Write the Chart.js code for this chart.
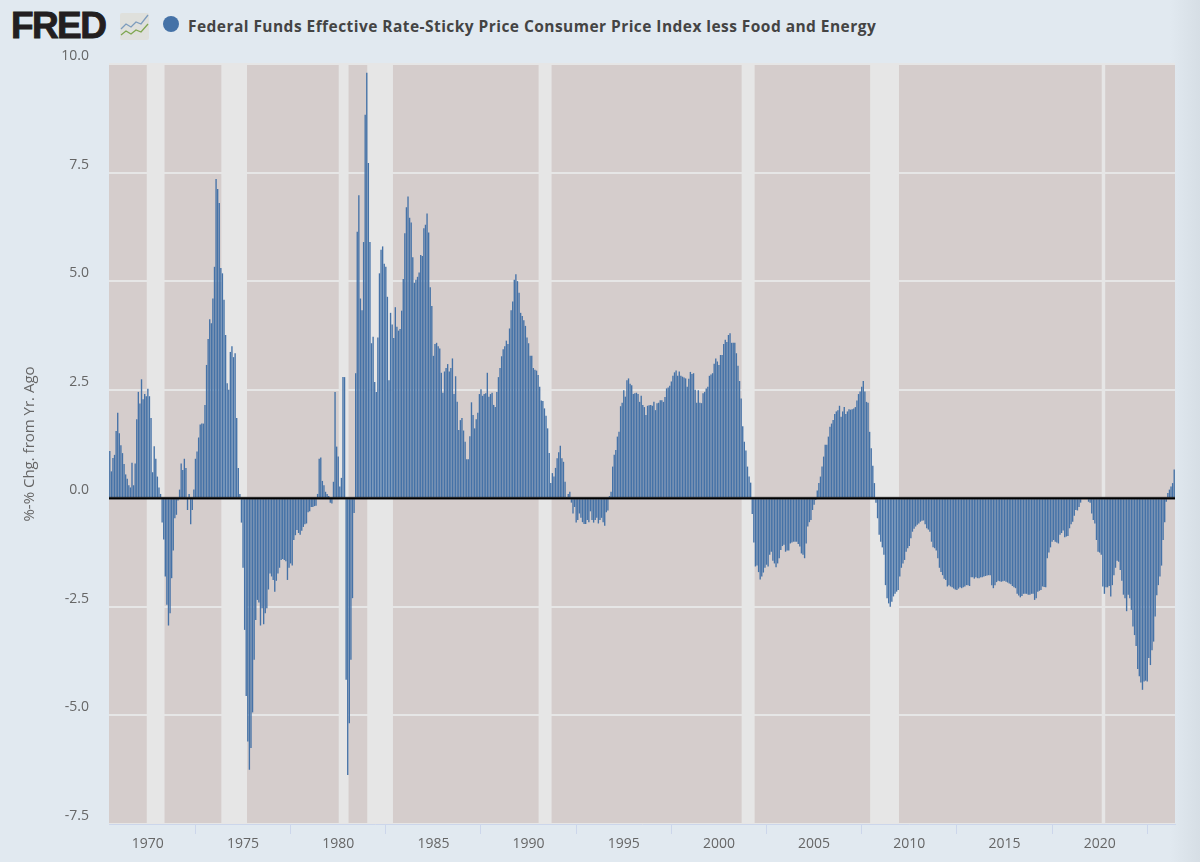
<!DOCTYPE html>
<html>
<head>
<meta charset="utf-8">
<title>Federal Funds Effective Rate-Sticky Price Consumer Price Index less Food and Energy</title>
<script src="https://cdn.jsdelivr.net/npm/chart.js@4"></script>
<style>
  html, body { margin: 0; padding: 0; }
  body {
    width: 1200px;
    height: 862px;
    overflow: hidden;
    position: relative;
    background: linear-gradient(to right, #e1e9f0 0, #e1e9f0 1170px, #d6dee5 1200px);
    font-family: 'Open Sans', sans-serif;
  }
  #logo {
    position: absolute;
    left: 11px;
    top: 3px;
    font: bold 37px/46px 'Liberation Sans', sans-serif;
    letter-spacing: -1.6px;
    color: #231f20;
    -webkit-text-stroke: 0.9px #231f20;
  }
  #logoIcon { position: absolute; left: 120px; top: 13px; }
  #legendDot {
    position: absolute;
    left: 163px;
    top: 16px;
    width: 16px;
    height: 16px;
    border-radius: 50%;
    background: #4572a7;
  }
  #seriesTitle {
    position: absolute;
    left: 188px;
    top: 15px;
    font-size: 15.5px;
    line-height: 22px;
    font-weight: 700;
    letter-spacing: 0.45px;
    color: #444;
    white-space: nowrap;
  }
  #chart { position: absolute; left: 0; top: 0; }
</style>
</head>
<body>
<div id="logo">FRED</div>
<svg id="logoIcon" width="29" height="27" viewBox="0 0 29 27">
  <rect width="29" height="27" rx="2" fill="#dfe0dc"/>
  <polyline points="1,16 6,11 11,14 16,9 21,11 28,2" fill="none" stroke="#7d9cbd" stroke-width="1.3"/>
  <polyline points="1,22 6,18 11,21 16,17 21,19 28,11" fill="none" stroke="#7fa650" stroke-width="1.3"/>
</svg>
<div id="legendDot"></div>
<div id="seriesTitle">Federal Funds Effective Rate-Sticky Price Consumer Price Index less Food and Energy</div>
<canvas id="chart" width="1200" height="862"></canvas>

<script>
const firstYear = 1968;
const lastYear = 2023;
const seriesName = 'Federal Funds Effective Rate-Sticky Price Consumer Price Index less Food and Energy';
const axisTitle = '%-% Chg. from Yr. Ago';
const yTicks = [-7.5, -5, -2.5, 0, 2.5, 5, 7.5, 10];

// Monthly values, one row per year
const values = [
  1.09, 0.62, 0.93, 1.0, 1.55, 1.97, 1.5, 1.22, 1.04, 0.79, 0.55, 0.45, // 1968
  0.3, 0.25, 0.82, 0.3, 0.8, 1.82, 2.45, 2.18, 2.74, 2.28, 2.4, 2.35, // 1969
  2.52, 2.35, 1.85, 0.6, 1.2, 0.91, 0.5, 0.25, 0.1, -0.56, -0.95, -1.8, // 1970
  -2.45, -2.93, -2.65, -1.84, -1.2, -0.46, -0.38, -0.05, 0.2, 0.8, 0.65, 0.91, // 1971
  0.7, -0.27, 0.1, -0.6, -0.27, 0.2, 0.91, 1.08, 1.4, 1.7, 1.72, 1.72, // 1972
  2.15, 3.07, 3.67, 4.12, 4.03, 4.6, 5.33, 7.35, 7.12, 6.8, 5.3, 5.18, // 1973
  4.57, 3.76, 2.65, 2.5, 3.37, 3.5, 3.25, 3.34, 1.85, 0.7, 0.1, -0.56, // 1974
  -1.6, -3.03, -4.55, -5.6, -6.25, -5.75, -4.93, -3.72, -2.8, -2.34, -2.4, -2.93, // 1975
  -2.53, -2.9, -2.65, -2.53, -2.1, -1.73, -1.8, -1.88, -2.15, -1.9, -1.73, -1.6, // 1976
  -1.42, -1.4, -1.42, -1.45, -1.88, -1.6, -1.5, -1.55, -0.96, -0.85, -0.73, -0.8, // 1977
  -0.84, -0.75, -0.66, -0.6, -0.58, -0.32, -0.3, -0.2, -0.2, -0.18, -0.17, 0.1, // 1978
  0.91, 0.94, 0.4, 0.3, 0.15, 0.1, 0.05, -0.1, -0.12, 0.38, 2.45, 1.19, // 1979
  0.96, 0.27, 0.47, 2.79, 2.79, -4.18, -6.37, -5.18, -3.72, -2.3, -0.34, 2.88, // 1980
  6.14, 6.98, 4.6, 4.33, 5.9, 8.83, 9.8, 7.72, 5.9, 3.57, 3.72, 2.68, // 1981
  2.45, 3.7, 5.18, 5.72, 5.8, 5.4, 5.33, 4.64, 2.72, 4.27, 4.0, 3.69, // 1982
  4.4, 3.95, 3.86, 3.9, 4.32, 5.05, 6.1, 6.7, 6.95, 6.46, 6.35, 5.55, // 1983
  4.96, 5.03, 5.1, 5.2, 5.6, 5.58, 6.22, 6.3, 6.56, 6.12, 4.86, 4.43, // 1984
  3.28, 3.55, 3.58, 3.5, 3.45, 2.89, 2.43, 2.92, 3.0, 3.09, 2.92, 3.0, // 1985
  3.22, 2.4, 2.81, 2.22, 1.57, 1.8, 1.85, 1.56, 1.3, 0.9, 0.9, 1.43, // 1986
  2.21, 1.92, 1.61, 1.82, 1.97, 2.4, 2.51, 2.36, 2.4, 2.42, 2.89, 2.34, // 1987
  2.4, 2.43, 2.15, 2.1, 2.45, 2.79, 3.0, 3.27, 3.43, 3.5, 3.63, 3.55, // 1988
  3.91, 4.33, 4.53, 5.03, 5.16, 5.0, 4.73, 4.27, 4.2, 4.1, 3.97, 3.7, // 1989
  3.57, 3.28, 3.28, 3.0, 2.96, 2.94, 2.84, 2.57, 2.25, 2.24, 2.07, 1.9, // 1990
  1.61, 1.04, 0.35, 0.58, 0.5, 0.7, 0.92, 1.06, 1.21, 0.92, 0.84, 0.38, // 1991
  0.03, 0.1, 0.15, -0.1, -0.35, -0.2, -0.56, -0.5, -0.35, -0.45, -0.55, -0.59, // 1992
  -0.59, -0.5, -0.55, -0.3, -0.5, -0.56, -0.5, -0.45, -0.58, -0.5, -0.45, -0.55, // 1993
  -0.63, -0.32, -0.28, 0.05, 0.15, 0.73, 1.0, 1.11, 1.42, 1.53, 2.12, 2.2, // 1994
  2.49, 2.34, 2.72, 2.76, 2.64, 2.6, 2.4, 2.42, 2.43, 2.4, 2.22, 2.36, // 1995
  2.15, 2.1, 1.92, 2.13, 2.14, 2.15, 2.13, 2.22, 2.03, 2.19, 2.2, 2.26, // 1996
  2.26, 2.22, 2.33, 2.53, 2.55, 2.59, 2.69, 2.82, 2.9, 2.94, 2.82, 2.92, // 1997
  2.82, 2.8, 2.78, 2.76, 2.57, 2.75, 2.91, 2.86, 2.88, 2.5, 2.2, 2.49, // 1998
  2.2, 2.19, 2.42, 2.45, 2.53, 2.57, 2.82, 2.85, 2.88, 3.1, 3.22, 3.15, // 1999
  3.07, 3.3, 3.3, 3.55, 3.65, 3.6, 3.76, 3.8, 3.58, 3.58, 3.58, 3.34, // 2000
  3.05, 2.7, 2.3, 1.66, 1.3, 1.1, 0.73, 0.5, 0.36, -0.36, -1.02, -1.57, // 2001
  -1.55, -1.7, -1.87, -1.8, -1.71, -1.6, -1.53, -1.57, -1.3, -1.23, -1.44, -1.5, // 2002
  -1.59, -1.5, -1.38, -1.19, -1.1, -1.07, -1.23, -1.2, -1.2, -1.04, -1.02, -1.0, // 2003
  -1.0, -1.0, -1.05, -1.11, -1.27, -1.3, -1.38, -1.04, -0.65, -0.55, -0.5, -0.27, // 2004
  -0.15, -0.04, 0.18, 0.35, 0.5, 0.73, 0.96, 1.23, 1.23, 1.42, 1.65, 1.72, // 2005
  1.8, 1.94, 2.0, 2.03, 2.13, 1.88, 2.0, 2.1, 1.94, 2.0, 2.05, 2.04, // 2006
  2.05, 2.07, 2.1, 2.25, 2.4, 2.46, 2.57, 2.7, 2.46, 2.22, 2.2, 1.53, // 2007
  1.15, 0.75, 0.35, -0.1, -0.46, -0.84, -1.0, -1.13, -1.3, -2.0, -2.3, -2.42, // 2008
  -2.5, -2.38, -2.26, -2.2, -2.15, -2.11, -1.8, -1.6, -1.5, -1.42, -1.23, -1.15, // 2009
  -1.1, -0.92, -0.77, -0.7, -0.65, -0.61, -0.58, -0.54, -0.52, -0.51, -0.6, -0.69, // 2010
  -0.72, -0.77, -1.0, -1.13, -1.15, -1.2, -1.38, -1.6, -1.7, -1.77, -1.85, -1.88, // 2011
  -2.03, -2.0, -2.03, -2.05, -2.08, -2.1, -2.11, -2.08, -2.05, -2.07, -2.05, -2.03, // 2012
  -2.0, -2.0, -2.02, -1.82, -1.82, -1.85, -1.82, -1.84, -1.84, -1.82, -1.82, -1.8, // 2013
  -1.79, -1.78, -1.77, -1.77, -2.0, -2.07, -2.0, -1.93, -1.9, -1.91, -1.92, -1.91, // 2014
  -1.9, -1.92, -1.94, -1.96, -1.98, -2.02, -2.05, -2.07, -2.2, -2.24, -2.28, -2.25, // 2015
  -2.2, -2.2, -2.2, -2.22, -2.22, -2.2, -2.2, -2.34, -2.3, -2.15, -2.13, -2.11, // 2016
  -2.03, -2.04, -2.05, -1.38, -1.25, -1.13, -1.0, -0.96, -1.0, -1.02, -1.04, -0.84, // 2017
  -0.8, -0.74, -0.9, -0.88, -0.87, -0.69, -0.6, -0.54, -0.4, -0.27, -0.28, -0.2, // 2018
  -0.1, 0, 0, 0, 0, -0.08, -0.1, -0.35, -0.5, -0.58, -0.96, -1.23, // 2019
  -1.25, -1.3, -2.03, -2.2, -2.05, -2.05, -2.02, -2.26, -2.0, -1.77, -1.6, -1.44, // 2020
  -1.46, -1.65, -1.9, -2.22, -2.3, -2.6, -2.22, -2.3, -2.57, -2.95, -3.15, -3.4, // 2021
  -3.93, -4.1, -4.24, -4.41, -4.22, -4.2, -4.22, -3.68, -3.84, -3.5, -3.3, -2.72, // 2022
  -2.23, -2.0, -1.8, -1.55, -0.96, -0.55, -0.08, 0.12, 0.2, 0.27, 0.35, 0.66 // 2023
];

// NBER recessions, first and last month
const recessionStarts = ['1969-12', '1973-11', '1980-01', '1981-07', '1990-07', '2001-03', '2007-12', '2020-02'];
const recessionEnds = ['1970-11', '1975-03', '1980-07', '1982-11', '1991-03', '2001-11', '2009-06', '2020-04'];

const months = [];
for (let y = firstYear; y <= lastYear; y++) {
  for (let m = 1; m <= 12; m++) {
    months.push(y + '-' + String(m).padStart(2, '0'));
  }
}

// Plot background and the grey recession bands, behind the bars
const bandsPlugin = {
  id: 'bands',
  beforeDraw(chart) {
    const { ctx, chartArea: a } = chart;
    ctx.save();
    ctx.fillStyle = '#d5cdcc';
    ctx.fillRect(a.left, a.top, a.width, a.height);
    ctx.restore();
  },
  beforeDatasetsDraw(chart) {
    const { ctx, chartArea: a, scales } = chart;
    const step = scales.x.getPixelForValue(1) - scales.x.getPixelForValue(0);
    ctx.save();
    ctx.fillStyle = '#e6e6e6';
    recessionStarts.forEach((start, i) => {
      const x0 = scales.x.getPixelForValue(months.indexOf(start)) + 0.5;
      const x1 = scales.x.getPixelForValue(months.indexOf(recessionEnds[i])) + step / 2;
      ctx.fillRect(x0, a.top, x1 - x0, a.height);
    });
    ctx.restore();
  },
  // Black zero line sits on top of the bars
  afterDatasetsDraw(chart) {
    const { ctx, chartArea: a, scales } = chart;
    const y = scales.y.getPixelForValue(0);
    ctx.save();
    ctx.strokeStyle = 'rgba(0,0,0,0.25)';
    ctx.lineWidth = 3.5;
    ctx.beginPath();
    ctx.moveTo(a.left, y);
    ctx.lineTo(a.right, y);
    ctx.stroke();
    ctx.strokeStyle = '#000';
    ctx.lineWidth = 2;
    ctx.beginPath();
    ctx.moveTo(a.left, y);
    ctx.lineTo(a.right, y);
    ctx.stroke();
    ctx.restore();
  }
};

new Chart(document.getElementById('chart').getContext('2d'), {
  type: 'bar',
  data: {
    labels: months,
    datasets: [
      {
        label: seriesName,
        data: values,
        backgroundColor: '#4572a7',
        borderWidth: 0,
        barPercentage: 0.86,
        categoryPercentage: 1
      }
    ]
  },
  options: {
    responsive: false,
    animation: false,
    layout: { padding: { top: 64, right: 25, left: 0, bottom: 0 } },
    plugins: {
      legend: { display: false },
      tooltip: { enabled: false }
    },
    scales: {
      x: {
        afterFit(scale) { scale.height = 38; },
        // Keep only the January of every fifth year
        afterBuildTicks(scale) {
          scale.ticks = scale.ticks.filter(t => {
            const label = months[t.value];
            return label.endsWith('-01') && Number(label.slice(0, 4)) % 5 === 0;
          });
        },
        grid: {
          drawOnChartArea: false,
          tickColor: '#ccd6eb',
          tickLength: 10
        },
        border: { color: '#ccd6eb' },
        ticks: {
          autoSkip: false,
          maxRotation: 0,
          padding: 2,
          color: '#666',
          font: { family: 'Open Sans', size: 14 },
          callback(value) {
            return months[value].slice(0, 4);
          }
        }
      },
      y: {
        min: -7.5,
        max: 10,
        afterFit(scale) { scale.width = 109; },
        afterBuildTicks(scale) {
          scale.ticks = yTicks.map(v => ({ value: v }));
        },
        grid: {
          color: '#e6e6e6',
          lineWidth: 2,
          drawTicks: false
        },
        border: { display: false },
        title: {
          display: true,
          text: axisTitle,
          color: '#666',
          font: { family: 'Open Sans', size: 15 },
          padding: { top: 21, bottom: 0 }
        },
        ticks: {
          padding: 20,
          labelOffset: -8,
          color: '#666',
          font: { family: 'Open Sans', size: 14 },
          callback(value) {
            return value.toFixed(1);
          }
        }
      }
    }
  },
  plugins: [bandsPlugin]
});
</script>
</body>
</html>
